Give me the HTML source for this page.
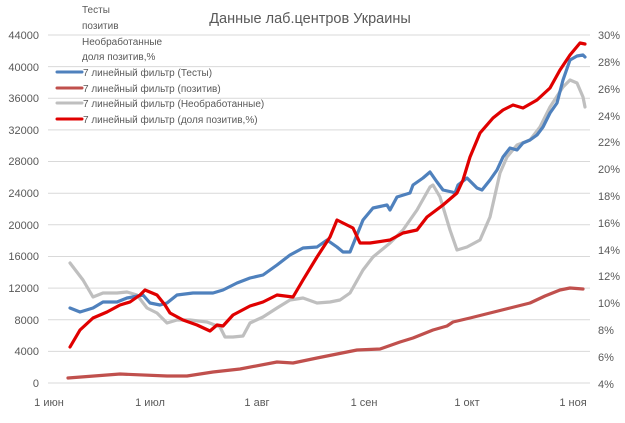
<!DOCTYPE html>
<html><head><meta charset="utf-8"><style>
body{margin:0;background:#fff}
svg{display:block;font-family:"Liberation Sans",sans-serif}
</style></head><body>
<svg width="625" height="423" viewBox="0 0 625 423">
<g stroke="#d9d9d9" stroke-width="1">
<line x1="48" y1="35" x2="590" y2="35"/><line x1="48" y1="66.6" x2="590" y2="66.6"/>
<line x1="48" y1="98.3" x2="590" y2="98.3"/><line x1="48" y1="129.9" x2="590" y2="129.9"/>
<line x1="48" y1="161.5" x2="590" y2="161.5"/><line x1="48" y1="193.2" x2="590" y2="193.2"/>
<line x1="48" y1="224.8" x2="590" y2="224.8"/><line x1="48" y1="256.5" x2="590" y2="256.5"/>
<line x1="48" y1="288.1" x2="590" y2="288.1"/><line x1="48" y1="319.7" x2="590" y2="319.7"/>
<line x1="48" y1="351.4" x2="590" y2="351.4"/><line x1="48" y1="383" x2="590" y2="383"/>
</g>
<g font-size="11" fill="#595959" text-anchor="end">
<text x="39" y="39">44000</text><text x="39" y="71">40000</text><text x="39" y="102">36000</text>
<text x="39" y="134">32000</text><text x="39" y="165">28000</text><text x="39" y="197">24000</text>
<text x="39" y="229">20000</text><text x="39" y="260">16000</text><text x="39" y="292">12000</text>
<text x="39" y="324">8000</text><text x="39" y="355">4000</text><text x="39" y="387">0</text>
</g>
<g font-size="11" fill="#595959">
<text x="598" y="39">30%</text><text x="598" y="66">28%</text><text x="598" y="93">26%</text>
<text x="598" y="120">24%</text><text x="598" y="146">22%</text><text x="598" y="173">20%</text>
<text x="598" y="200">18%</text><text x="598" y="227">16%</text><text x="598" y="254">14%</text>
<text x="598" y="280">12%</text><text x="598" y="307">10%</text><text x="598" y="334">8%</text>
<text x="598" y="361">6%</text><text x="598" y="388">4%</text>
</g>
<g font-size="11" fill="#595959" text-anchor="middle">
<text x="49" y="406">1 июн</text><text x="150" y="406">1 июл</text><text x="257" y="406">1 авг</text>
<text x="364" y="406">1 сен</text><text x="467" y="406">1 окт</text><text x="573" y="406">1 ноя</text>
</g>
<text x="310" y="23" font-size="14.5" fill="#595959" text-anchor="middle">Данные лаб.центров Украины</text>
<g font-size="10" fill="#595959">
<text x="82" y="13">Тесты</text><text x="82" y="29">позитив</text>
<text x="82" y="45">Необработанные</text><text x="82" y="60">доля позитив,%</text>
<text x="83" y="76">7 линейный фильтр (Тесты)</text>
<text x="83" y="92">7 линейный фильтр (позитив)</text>
<text x="83" y="107">7 линейный фильтр (Необработанные)</text>
<text x="83" y="123">7 линейный фильтр (доля позитив,%)</text>
</g>
<g stroke-width="3" stroke-linecap="round">
<line x1="57" y1="72" x2="82" y2="72" stroke="#4f81bd"/>
<line x1="57" y1="88" x2="82" y2="88" stroke="#c0504d"/>
<line x1="57" y1="103" x2="82" y2="103" stroke="#bfbfbf"/>
<line x1="57" y1="119" x2="82" y2="119" stroke="#e00000"/>
</g>
<g fill="none" stroke-width="3.2" stroke-linejoin="round" stroke-linecap="round">
<polyline stroke="#c0504d" points="68,378 120,374 167,376 187,376 213,372 240,369 277,362 293,363 317,358 357,350 380,349 400,342 413,338 433,330 447,326 453,322 470,318 490,313 510,308 530,303 545,296 560,290 570,288 583,289"/>
<polyline stroke="#bfbfbf" points="70,263 83,280 93,297 103,293 117,293 127,292 137,295 147,308 157,313 167,323 177,320 190,320 207,322 220,327 225,337 233,337 243,336 250,323 263,317 277,308 290,300 303,298 317,303 330,302 340,300 350,293 363,270 373,257 390,243 403,230 417,210 430,187 433,185 440,197 450,230 457,250 467,247 480,240 490,217 500,173 507,157 517,145 530,140 540,127 550,107 563,87 570,80 577,83 583,97 585,107"/>
<polyline stroke="#4f81bd" points="70,308 80,312 93,308 103,302 117,302 127,298 143,295 150,303 160,305 167,303 177,295 193,293 213,293 223,290 237,283 250,278 263,275 277,265 290,255 303,248 317,247 327,240 337,247 343,252 350,252 363,220 373,208 387,205 390,210 397,197 410,193 413,185 423,178 430,172 437,182 443,190 452,192 455,193 458,185 467,178 477,188 482,190 490,180 497,170 503,157 510,148 517,150 523,143 530,140 537,135 543,127 550,113 557,103 563,80 570,60 577,56 583,55 585,57"/>
<polyline stroke="#e00000" points="70,347 80,330 93,318 107,312 120,305 130,302 140,295 145,290 157,295 165,305 170,313 183,320 197,325 210,331 217,325 223,326 233,315 250,306 263,302 277,295 293,297 303,280 317,257 330,237 337,220 343,223 353,228 360,243 370,243 390,240 403,233 417,230 427,217 443,205 457,193 463,180 470,157 480,133 493,118 503,110 513,105 523,108 537,100 550,88 560,70 570,55 580,43 585,44"/>
</g>
</svg>
</body></html>
